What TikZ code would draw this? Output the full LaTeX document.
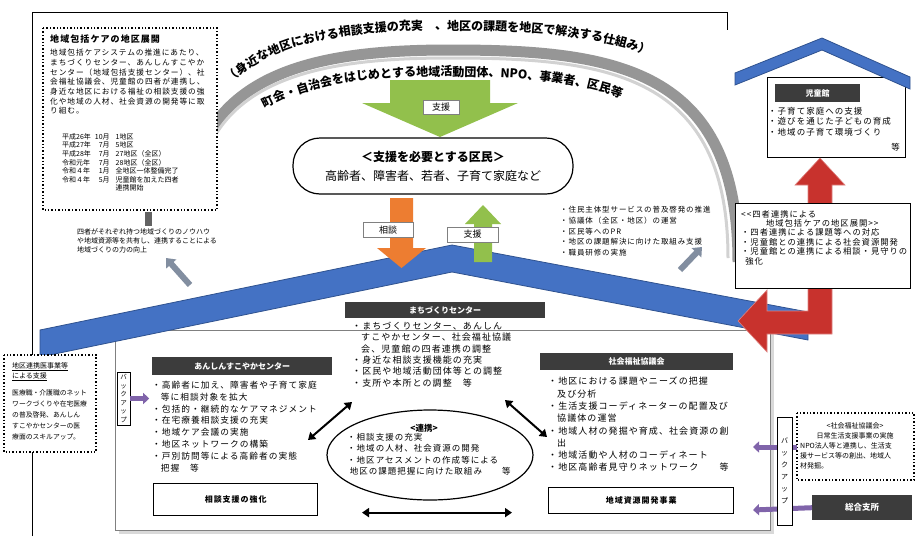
\documentclass[tikz,border=0pt]{standalone}
\usepackage{fontspec}
\setmainfont{Noto Sans CJK JP}
\newfontfamily\jpsp{Noto Sans CJK JP}[LetterSpace=12]
\usetikzlibrary{arrows.meta,decorations.text,shapes.geometric}

\definecolor{roofblue}{RGB}{68,114,196}
\definecolor{roofedge}{RGB}{47,82,143}
\definecolor{suppgreen}{RGB}{146,192,76}
\definecolor{consorange}{RGB}{237,125,49}
\definecolor{bandgray}{RGB}{150,150,150}
\definecolor{headdark}{RGB}{60,60,60}
\definecolor{backpurple}{RGB}{128,100,170}
\definecolor{linkred}{RGB}{200,50,45}
\definecolor{stubgray}{RGB}{130,142,160}

\def\roofband{(40,330) -- (452,245) -- (808,312) -- (808,340) -- (452,272) -- (40,357) -- cycle}
\def\houseroof{(735,73) -- (822,38) -- (910,77) -- (910,89) -- (822,50) -- (735,85) -- cycle}
\def\arcline{(188,205) .. controls (198,70) and (320,50) .. (450,50) .. controls (615,50) and (738,68) .. (738,262)}
\def\redarrow{(738,321) -- (767,290) -- (767,311) -- (808,311) -- (808,185) -- (795,185) -- (820,158) -- (845,185) -- (832,185) -- (832,334) -- (767,334) -- (767,352) -- cycle}

\tikzset{
  body/.style={align=left, anchor=north west, inner sep=0pt},
  header/.style={fill=headdark, text=white, anchor=north west, inner sep=0pt,
    font=\fontsize{8}{9}\selectfont\bfseries},
  labelbox/.style={draw=gray, fill=white, inner sep=0pt, font=\fontsize{9}{10}\selectfont},
  titlebox/.style={draw, line width=1.4pt, fill=white, anchor=north west, inner sep=0pt,
    font=\jpsp\fontsize{8}{9}\selectfont\bfseries},
  vbox/.style={draw, fill=white, inner sep=0pt, align=center,
    font=\fontsize{6.5}{8.6}\selectfont},
  dotbox/.style={draw, dotted, line width=1.4pt, fill=white},
  purplearr/.style={-{Triangle[length=6pt,width=11pt]}, line width=5pt, backpurple},
  dblarr/.style={{Triangle[length=7pt,width=9pt]}-{Triangle[length=7pt,width=9pt]}, line width=2pt},
  smallarr/.style={-{Triangle[length=8pt,width=13pt]}, line width=6pt, stubgray},
}

\begin{document}
\begin{tikzpicture}[x=1pt,y=-1pt]
  \useasboundingbox (0,0) rectangle (916,536);
  \fill[white] (0,0) rectangle (916,536);

  \draw[line width=0.6pt] (32,536) -- (32,12) -- (727,12) -- (727,30);

  \draw[line width=11pt, bandgray] \arcline;
  \draw[line width=3pt, gray!35] (196,200) .. controls (205,77) and (322,58) .. (450,58) .. controls (608,58) and (728,74) .. (728,258);
  \path[decorate, decoration={text along path, text align=center,
      text={|\fontsize{12}{12}\selectfont\bfseries|（身近な地区における相談支援の充実　、地区の課題を地区で解決する仕組み）}}]
    (214,104) .. controls (250,45) and (340,30) .. (440,30) .. controls (545,30) and (625,38) .. (672,68);
  \path[decorate, decoration={text along path, text align=center,
      text={|\fontsize{12}{12}\selectfont\bfseries|町会・自治会をはじめとする地域活動団体、NPO、事業者、区民等}}]
    (238,126) .. controls (290,85) and (360,76) .. (445,76) .. controls (530,76) and (605,84) .. (650,112);

  \draw[dotbox] (43,28) rectangle (217,210);
  \node[anchor=west, inner sep=0pt, font=\jpsp\fontsize{9}{10}\selectfont\bfseries] (areatitle) at (50,39) {地域包括ケアの地区展開};
  \node[body, font=\jpsp\fontsize{7.7}{9.7}\selectfont] (areatext) at (50,49)
    {地域包括ケアシステムの推進にあたり、\\まちづくりセンター、あんしんすこやか\\センター（地域包括支援センター）、社\\会福祉協議会、児童館の四者が連携し、\\身近な地区における福祉の相談支援の強\\化や地域の人材、社会資源の開発等に取\\り組む。};
  \node[body, font=\fontsize{7}{8.6}\selectfont] (arealist) at (62,133)
    {\begin{tabular}{@{}l@{\hspace{4pt}}r@{\hspace{6pt}}l@{}}
      平成26年&10月&1地区\\ 平成27年&7月&5地区\\ 平成28年&7月&27地区（全区）\\
      令和元年&7月&28地区（全区）\\ 令和４年&1月&全地区一体整備完了\\
      令和４年&5月&児童館を加えた四者\\ &&連携開始
    \end{tabular}};
  \fill[headdark!80] (145,212) rectangle (152,226);
  \node[body, font=\fontsize{7}{9}\selectfont] (sharetext) at (77,228)
    {四者がそれぞれ持つ地域づくりのノウハウ\\や地域資源等を共有し、連携することによる\\地域づくりの力の向上};

  \fill[suppgreen] (390,80) -- (490,80) -- (490,103) -- (518,103) -- (440,137) -- (362,103) -- (390,103) -- cycle;
  \node[labelbox, minimum width=36pt, minimum height=14pt] (suptop) at (441,107) {支援};

  \node[draw, line width=1.2pt, fill=white, rounded corners=27pt, minimum width=280pt,
    minimum height=56pt, align=center, font=\fontsize{12}{19}\selectfont] (resident) at (433,166)
    {\textbf{＜支援を必要とする区民＞}\\高齢者、障害者、若者、子育て家庭など};

  \node[body, font=\jpsp\fontsize{7.5}{10.8}\selectfont] (sociallist) at (560,206)
    {・住民主体型サービスの普及啓発の推進\\・協議体（全区・地区）の運営\\・区民等へのPR\\・地区の課題解決に向けた取組み支援\\・職員研修の実施};

  \fill[gray!30] (119,334) rectangle (774,534);
  \draw[gray, fill=white] (115,330) rectangle (770,530);

  \fill[roofblue] \roofband;
  \draw[roofedge, line width=0.8pt] \roofband;

  \fill[consorange] (390,198) -- (413,198) -- (413,248) -- (426,248) -- (401.5,268) -- (377,248) -- (390,248) -- cycle;
  \node[labelbox, minimum width=50pt, minimum height=15pt] (consult) at (388,230) {相談};
  \fill[suppgreen] (474,262) -- (492,262) -- (492,224) -- (501,224) -- (483,205) -- (465,224) -- (474,224) -- cycle;
  \node[labelbox, minimum width=51pt, minimum height=15pt] (supup) at (472.5,234.5) {支援};

  \draw[smallarr] (190,285) -- (166,258);
  \draw[smallarr] (680,270) -- (702,247);

  \draw[fill=white] (767,77) rectangle (905,157);
  \fill[roofblue] \houseroof;
  \draw[roofedge, line width=0.8pt] \houseroof;
  \node[header, minimum width=85pt, minimum height=18pt] (jidoukan) at (775,84) {児童館};
  \node[body, font=\jpsp\fontsize{8.5}{10.5}\selectfont] (jidoulist) at (768,107)
    {・子育て家庭への支援\\・遊びを通じた子どもの育成\\・地域の子育て環境づくり};
  \node[anchor=east, inner sep=0pt, font=\fontsize{8.5}{10}\selectfont] (jidoutou) at (900,147) {等};

  \fill[linkred] \redarrow;
  \draw[linkred!60!white, line width=0.6pt] \redarrow;

  \draw[fill=white] (735,203) rectangle (910,288);
  \node[body, font=\jpsp\fontsize{8.3}{9.4}\selectfont] (fourlink) at (741,210)
    {<<四者連携による\\\hspace{3em}地域包括ケアの地区展開>>\\・四者連携による課題等への対応\\・児童館との連携による社会資源開発\\・児童館との連携による相談・見守りの\\\hspace{0.5em}強化};

  \node[header, minimum width=200pt, minimum height=16pt] (machihead) at (345,302) {まちづくりセンター};
  \node[body, font=\jpsp\fontsize{9}{11.3}\selectfont] (machilist) at (352,322)
    {・まちづくりセンター、あんしん\\\hspace{1em}すこやかセンター、社会福祉協議\\\hspace{1em}会、児童館の四者連携の調整\\・身近な相談支援機能の充実\\・区民や地域活動団体等との調整\\・支所や本所との調整　等};

  \node[header, minimum width=180pt, minimum height=18pt] (anshead) at (152,357) {あんしんすこやかセンター};
  \node[body, font=\jpsp\fontsize{8.7}{11.8}\selectfont] (anslist) at (152,381)
    {・高齢者に加え、障害者や子育て家庭\\\hspace{1em}等に相談対象を拡大\\・包括的・継続的なケアマネジメント\\・在宅療養相談支援の充実\\・地域ケア会議の実施\\・地区ネットワークの構築\\・戸別訪問等による高齢者の実態\\\hspace{1em}把握　等};
  \node[titlebox, minimum width=164pt, minimum height=32pt] (soudanbox) at (153,483) {相談支援の強化};

  \node[header, minimum width=193pt, minimum height=17pt] (shakyohead) at (540,353) {社会福祉協議会};
  \node[body, font=\jpsp\fontsize{9}{12.3}\selectfont] (shakyolist) at (548,377)
    {・地区における課題やニーズの把握\\\hspace{1em}及び分析\\・生活支援コーディネーターの配置及び\\\hspace{1em}協議体の運営\\・地域人材の発掘や育成、社会資源の創\\\hspace{1em}出\\・地域活動や人材のコーディネート\\・地区高齢者見守りネットワーク　　等};
  \node[titlebox, minimum width=185pt, minimum height=26pt] (shigenbox) at (548,487) {地域資源開発事業};

  \node[draw, line width=1.2pt, ellipse, minimum width=206pt, minimum height=90pt] (renkei) at (430,455) {};
  \node[inner sep=0pt, font=\fontsize{8.5}{9}\selectfont\bfseries] (renkeititle) at (424,428) {<連携>};
  \node[body, font=\jpsp\fontsize{8.5}{11.5}\selectfont] (renkeilist) at (347,433)
    {・相談支援の充実\\・地域の人材、社会資源の開発\\・地区アセスメントの作成等による\\\hspace{0.3em}地区の課題把握に向けた取組み　　等};

  \coordinate (mlink) at (352,402);
  \coordinate (alink) at (308,440);
  \coordinate (mrlink) at (505,400);
  \coordinate (slink) at (547,437);
  \draw[dblarr] (mlink) -- (alink);
  \draw[dblarr] (mrlink) -- (slink);
  \draw[dblarr] (renkei.south) ++(-68,12) -- ++(150,0);

  \draw[dotbox] (4,355) rectangle (96,452);
  \node[body, font=\fontsize{7}{10}\selectfont] (ishititle) at (12,362)
    {\underline{地区連携医事業等}\\\underline{による支援}};
  \node[body, font=\fontsize{6.8}{11}\selectfont] (ishitext) at (12,390)
    {医療職・介護職のネット\\ワークづくりや在宅医療\\の普及啓発、あんしん\\すこやかセンターの医\\療面のスキルアップ。};
  \node[vbox, minimum width=13pt, minimum height=53pt] (backleft) at (123.5,398.5) {バ\\ッ\\ク\\ア\\ッ\\プ};
  \draw[purplearr] (backleft.east) -- ++(19,0);

  \draw[dotbox] (797,413) rectangle (914,480);
  \node[align=center, inner sep=0pt, font=\fontsize{7}{10}\selectfont] (shakyonote) at (855,431)
    {<社会福祉協議会>\\日常生活支援事業の実施};
  \node[body, font=\fontsize{7}{10}\selectfont] (shakyonote2) at (800,442)
    {NPO法人等と連携し、生活支\\援サービス等の創出、地域人\\材発掘。};
  \node[header, minimum width=100pt, minimum height=25pt, font=\fontsize{8.5}{9}\selectfont\bfseries] (sougou) at (812,495) {総合支所};
  \coordinate (backtipA) at (753,447);
  \coordinate (backtipB) at (753,510);
  \draw[purplearr] (797,447) -- (backtipA);
  \draw[purplearr] (sougou.west) -- (backtipB);
  \node[vbox, minimum width=15pt, minimum height=108pt, font=\fontsize{7}{12}\selectfont] (backright) at (784.5,471) {バ\\ッ\\ク\\ア\\ッ\\プ};
\end{tikzpicture}
\end{document}
